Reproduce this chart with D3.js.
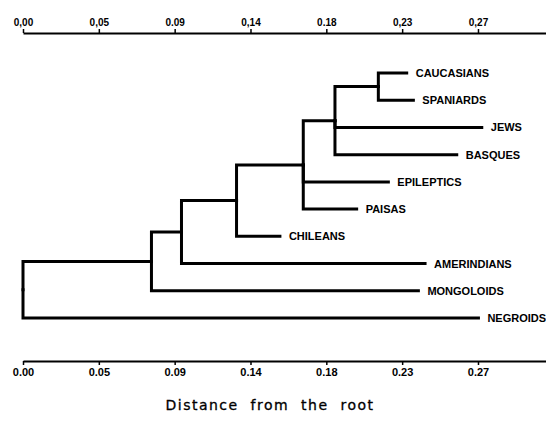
<!DOCTYPE html>
<html>
<head>
<meta charset="utf-8">
<script src="https://cdn.jsdelivr.net/npm/d3@7"></script>
<style>
  body { margin: 0; background: #fff; }
  svg { display: block; }
</style>
</head>
<body>
<script>
// leaves, top to bottom
var leaves = ["CAUCASIANS", "SPANIARDS", "JEWS", "BASQUES", "EPILEPTICS",
              "PAISAS", "CHILEANS", "AMERINDIANS", "MONGOLOIDS", "NEGROIDS"];
var leafDist = [0.230, 0.234, 0.275, 0.260, 0.219, 0.200, 0.154, 0.241, 0.237, 0.273];
var leafParent = ["n6", "n6", "n5", "n5", "n4", "n4", "n3", "n2", "n1", "root"];

// internal nodes (distance from the root)
var nodes = ["root", "n1", "n2", "n3", "n4", "n5", "n6"];
var nodeDist = [0, 0.077, 0.095, 0.128, 0.168, 0.187, 0.213];
var nodeParent = [null, "root", "n1", "n2", "n3", "n4", "n5"];

// axis ticks
var tickValues = d3.range(7).map(function (i) { return i / 22; });
var topTickLabels = ["0,00", "0,05", "0.09", "0,14", "0.18", "0,23", "0,27"];
var bottomTickLabels = ["0.00", "0.05", "0.09", "0.14", "0.18", "0.23", "0.27"];

var w = 546, h = 434;
var svg = d3.select("body").append("svg")
  .attr("width", w)
  .attr("height", h);

var x = d3.scaleLinear().domain([0, 0.3135]).range([23, 546]);
var y = d3.scalePoint().domain(leaves).range([73, 318]);

// build the tree
var rows = nodes.map(function (n, i) {
  return { id: n, parent: nodeParent[i], dist: nodeDist[i] };
}).concat(leaves.map(function (n, i) {
  return { id: n, parent: leafParent[i], dist: leafDist[i], leaf: true, order: i };
}));

var root = d3.stratify()
  .id(function (d) { return d.id; })
  .parentId(function (d) { return d.parent; })(rows);

// y: leaves on their row, internal nodes halfway between first and last child
root.eachAfter(function (n) {
  if (n.data.leaf) {
    n.minOrder = n.data.order;
    n.py = y(n.id);
  } else {
    n.children.sort(function (a, b) { return a.minOrder - b.minOrder; });
    n.minOrder = n.children[0].minOrder;
    n.py = (n.children[0].py + n.children[n.children.length - 1].py) / 2;
  }
  n.px = x(n.data.dist);
});

svg.append("g")
  .selectAll("path")
  .data(root.descendants().filter(function (n) { return n.parent; }))
  .enter()
  .append("path")
  .attr("d", function (n) {
    return "M" + n.parent.px + "," + n.parent.py + "V" + n.py + "H" + n.px;
  })
  .attr("fill", "none")
  .attr("stroke", "#000")
  .attr("stroke-width", 3)
  .attr("stroke-linecap", "square")
  .attr("stroke-linejoin", "miter");

// leaf labels
svg.append("g")
  .selectAll("text")
  .data(root.leaves())
  .enter()
  .append("text")
  .text(function (n) { return n.id; })
  .attr("x", function (n) { return n.px + 9; })
  .attr("y", function (n) { return n.py; })
  .attr("dy", "0.36em")
  .attr("font-family", "'Liberation Sans', Arial, sans-serif")
  .attr("font-weight", "bold")
  .attr("font-size", "11px")
  .attr("fill", "#000");

// axes
var topAxis = d3.axisTop(x)
  .tickValues(tickValues)
  .tickSizeInner(4)
  .tickSizeOuter(0)
  .tickPadding(3)
  .tickFormat(function (d, i) { return topTickLabels[i]; });

var gTop = svg.append("g")
  .attr("transform", "translate(0,33)")
  .call(topAxis);
gTop.select(".domain").attr("stroke-width", 2);
gTop.selectAll(".tick line").attr("stroke-width", 1.5);
gTop.selectAll("text")
  .attr("font-family", "'Liberation Sans', Arial, sans-serif")
  .attr("font-weight", "bold")
  .attr("font-size", "10px")
  .attr("fill", "#000");

var bottomAxis = d3.axisBottom(x)
  .tickValues(tickValues)
  .tickSizeInner(4)
  .tickSizeOuter(0)
  .tickPadding(3)
  .tickFormat(function (d, i) { return bottomTickLabels[i]; });

var gBottom = svg.append("g")
  .attr("transform", "translate(0,361)")
  .call(bottomAxis);
gBottom.select(".domain").attr("stroke-width", 2);
gBottom.selectAll(".tick line").attr("stroke-width", 1.5);
gBottom.selectAll("text")
  .attr("font-family", "'Liberation Sans', Arial, sans-serif")
  .attr("font-weight", "bold")
  .attr("font-size", "11px")
  .attr("fill", "#000");

svg.append("text")
  .text("Distance  from  the  root")
  .attr("x", 270)
  .attr("y", 410)
  .attr("text-anchor", "middle")
  .attr("xml:space", "preserve")
  .style("white-space", "pre")
  .attr("font-family", "'DejaVu Sans', sans-serif")
  .attr("font-size", "14px")
  .attr("letter-spacing", "1.5px")
  .attr("stroke", "#000")
  .attr("stroke-width", 0.3)
  .attr("fill", "#000");
</script>
</body>
</html>
